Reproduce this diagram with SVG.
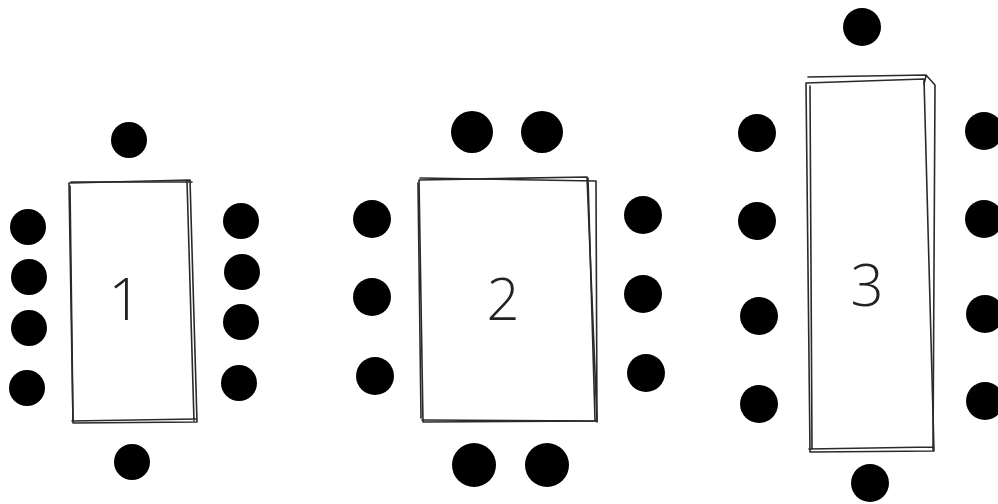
<svg xmlns="http://www.w3.org/2000/svg" width="998" height="504" viewBox="0 0 998 504">
<style>
.seat{fill:#000}
.edge{fill:none;stroke:#2a2a2a;stroke-width:1.6;stroke-linejoin:round;stroke-linecap:round}
.top{fill:#fff}
.num{font-family:"Open Sans","DejaVu Sans",sans-serif;font-weight:300;font-size:58px;fill:#222;text-anchor:middle;dominant-baseline:central}
</style>
<rect width="998" height="504" fill="#fff"/>
<g id="table1">
<path class="top" d="M69,183 L191,180 L197,422 L73,423 Z"/>
<path class="edge" d="M69,183 L190,180 L197,422 L73,423 Z"/>
<path class="edge" d="M71,182 L192,182 M187,181 L194,421 M72,421 L196,419 M70,186 L73,420"/>
<text class="num" x="125" y="297">1</text>
<circle class="seat" cx="129" cy="140" r="18"/>
<circle class="seat" cx="28" cy="227" r="18"/>
<circle class="seat" cx="29" cy="277" r="18"/>
<circle class="seat" cx="29" cy="328" r="18"/>
<circle class="seat" cx="27" cy="388" r="18"/>
<circle class="seat" cx="241" cy="221" r="18"/>
<circle class="seat" cx="242" cy="272" r="18"/>
<circle class="seat" cx="241" cy="322" r="18"/>
<circle class="seat" cx="239" cy="383" r="18"/>
<circle class="seat" cx="132" cy="462" r="18"/>
</g>
<g id="table2">
<path class="top" d="M419,180 L597,182 L597,422 L422,422 Z"/>
<path class="edge" d="M419,180 L587,177 L597,421 L423,422 Z"/>
<path class="edge" d="M420,178 L596,181 L597,422 M588,178 L595,420 M422,420 L596,421 M418,183 L421,418"/>
<text class="num" x="503" y="297">2</text>
<circle class="seat" cx="472" cy="132" r="21"/>
<circle class="seat" cx="542" cy="132" r="21"/>
<circle class="seat" cx="372" cy="219" r="19"/>
<circle class="seat" cx="372" cy="297" r="19"/>
<circle class="seat" cx="375" cy="376" r="19"/>
<circle class="seat" cx="643" cy="215" r="19"/>
<circle class="seat" cx="643" cy="294" r="19"/>
<circle class="seat" cx="646" cy="373" r="19"/>
<circle class="seat" cx="474" cy="465" r="22"/>
<circle class="seat" cx="547" cy="465" r="22"/>
</g>
<g id="table3">
<path class="top" d="M806,83 L935,85 L934,452 L810,453 Z"/>
<path class="edge" d="M806,83 L924,79 L934,451 L810,452 Z"/>
<path class="edge" d="M808,77 L926,75 L935,85 L933,450 M926,76 L924,84 M809,449 L933,447 M810,86 L812,448"/>
<text class="num" x="867" y="283">3</text>
<circle class="seat" cx="862" cy="27" r="19"/>
<circle class="seat" cx="757" cy="133" r="19"/>
<circle class="seat" cx="757" cy="221" r="19"/>
<circle class="seat" cx="759" cy="316" r="19"/>
<circle class="seat" cx="759" cy="404" r="19"/>
<circle class="seat" cx="984" cy="131" r="19"/>
<circle class="seat" cx="984" cy="219" r="19"/>
<circle class="seat" cx="985" cy="314" r="19"/>
<circle class="seat" cx="985" cy="401" r="19"/>
<circle class="seat" cx="870" cy="483" r="19"/>
</g>
<g id="connectors"></g>
</svg>
